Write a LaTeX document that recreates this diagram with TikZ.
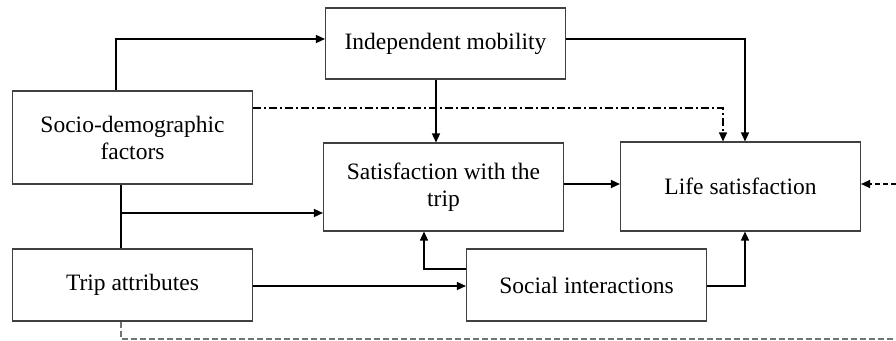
\documentclass[tikz,border=0pt]{standalone}
\usepackage{fontspec}
\setmainfont{Liberation Serif}
\usetikzlibrary{arrows.meta}
\begin{document}
\begin{tikzpicture}[x=1pt,y=-1pt,
  box/.style={draw=black!75,line width=1.1pt,rectangle,inner sep=0pt,align=center,
    font=\fontsize{23.5}{27}\selectfont,minimum width=240pt},
  link/.style={line width=1.4pt,-{Triangle[length=9pt,width=8pt]}},
  plain/.style={line width=1.4pt},
  dashdot/.style={line width=1.3pt,dash pattern=on 8pt off 3pt on 2pt off 3pt,-{Triangle[length=9pt,width=8pt]}},
  feedback/.style={line width=1.1pt,draw=black!55,dash pattern=on 6pt off 3pt}]
\useasboundingbox (0,0) rectangle (896,340);
% boxes
\node[box,minimum height=71pt] (ind) at (445.5,43.5) {Independent mobility};
\node[box,minimum height=93pt] (soc) at (132.5,137.5) {Socio-demographic\\factors};
\node[box,minimum height=88pt] (sat) at (443.5,187) {Satisfaction with the\\trip};
\node[box,minimum height=89pt] (life) at (740.5,186.5) {Life satisfaction};
\node[box,minimum height=72pt] (trip) at (132.5,285) {Trip attributes};
\node[box,minimum height=72pt] (si) at (586.5,285) {Social interactions};
% helper points
\coordinate (j1) at (121,213);
\coordinate (rim) at (896,184);
\coordinate (fb1) at (121,339);
\coordinate (fb2) at (896,339);
% solid paths
\draw[link] (soc.north -| 116,0) |- (ind.west |- 0,39);
\draw[link] (ind.east |- 0,39) -| (life.north -| 745,0);
\draw[link] (ind.south -| 436,0) -- (sat.north -| 436,0);
\draw[plain] (soc.south -| j1) -- (trip.north -| j1);
\draw[link] (j1) -- (sat.west |- j1);
\draw[link] (sat.east |- 0,184) -- (life.west |- 0,184);
\draw[link] (trip.east |- 0,286) -- (si.west |- 0,286);
\draw[link] (si.west |- 0,269) -| (sat.south -| 424,0);
\draw[link] (si.east |- 0,286) -| (life.south -| 745,0);
% direct effect of socio-demographic factors
\draw[dashdot] (soc.east |- 0,108) -| (life.north -| 723,0);
% feedback paths
\draw[line width=1.3pt,dash pattern=on 5pt off 3pt,-{Triangle[length=9pt,width=8pt]}] (rim) -- (life.east |- rim);
\draw[feedback] (trip.south -| fb1) -- (fb1) -- (fb2);
\end{tikzpicture}
\end{document}
